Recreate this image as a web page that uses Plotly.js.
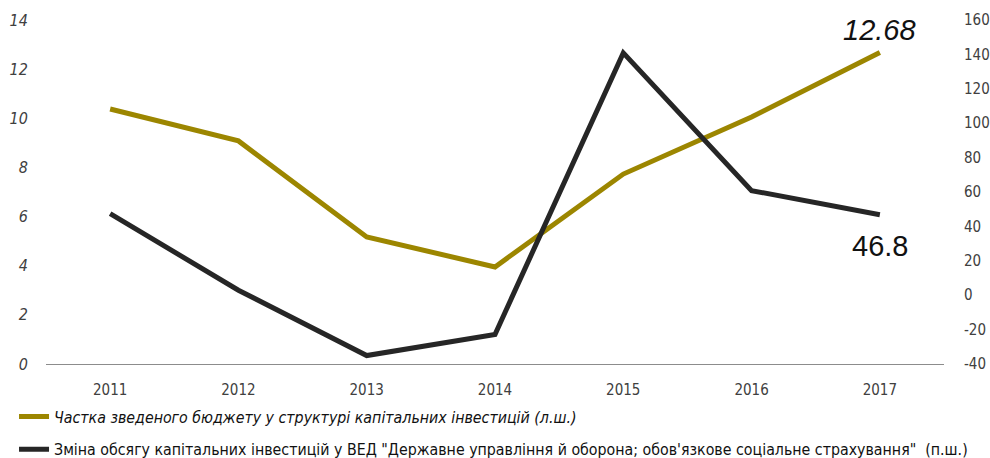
<!DOCTYPE html>
<html>
<head>
<meta charset="utf-8">
<script src="https://cdn.plot.ly/plotly-3.0.1.min.js"></script>
<style>
html,body{margin:0;padding:0;background:#fff}
#chart{width:990px;height:458px}
</style>
</head>
<body>
<div id="chart"></div>
<script>
const years = ['2011','2012','2013','2014','2015','2016','2017'];
const budgetShare = [10.38, 9.08, 5.17, 3.95, 7.73, 10.05, 12.68];
const investChange = [47.4, 2.9, -35.1, -22.8, 140.9, 60.8, 46.8];
const leftTicks = [0, 2, 4, 6, 8, 10, 12, 14];
const rightTicks = [-40, -20, 0, 20, 40, 60, 80, 100, 120, 140, 160];
const nameBudget = '<i>Частка зведеного бюджету у структурі капітальних інвестицій (л.ш.)</i>';
const nameInvest = 'Зміна обсягу капітальних інвестицій у ВЕД "Державне управління й оборона; обов\'язкове соціальне страхування"  (п.ш.)';

const FONT = '"DejaVu Sans Condensed", "DejaVu Sans", sans-serif';
const AFONT = '"Liberation Sans", Arial, sans-serif';
const GOLD = '#9c8600';
const DARK = '#262626';

const traces = [
  {x: years, y: budgetShare, type: 'scatter', mode: 'lines', name: nameBudget,
   line: {color: GOLD, width: 5}, yaxis: 'y', legendgroup: 'a'},
  {x: years, y: investChange, type: 'scatter', mode: 'lines', name: nameInvest,
   line: {color: DARK, width: 5}, yaxis: 'y2', legendgroup: 'b'}
];

const layout = {
  width: 990, height: 458,
  margin: {l: 46, r: 46, t: 20, b: 94},
  paper_bgcolor: '#fff', plot_bgcolor: '#fff',
  font: {family: FONT, color: '#333'},
  showlegend: true,
  xaxis: {
    type: 'category', range: [-0.5, 6.5], showgrid: false, zeroline: false,
    showline: true, linecolor: '#8c8c8c', linewidth: 1,
    ticks: 'outside', ticklen: 12, tickcolor: 'rgba(0,0,0,0)',
    tickfont: {family: FONT, size: 15, color: '#404040'}
  },
  yaxis: {
    range: [0, 14], tickmode: 'array', tickvals: leftTicks, showgrid: false, zeroline: false, showline: false,
    ticks: 'outside', ticklen: 14, tickcolor: 'rgba(0,0,0,0)',
    tickfont: {family: FONT, size: 16, color: '#404040', style: 'italic'}
  },
  yaxis2: {
    range: [-40, 160], tickmode: 'array', tickvals: rightTicks, ticktext: rightTicks.map(String),
    overlaying: 'y', side: 'right',
    showgrid: false, zeroline: false, showline: false,
    ticks: 'outside', ticklen: 16, tickcolor: 'rgba(0,0,0,0)',
    tickfont: {family: FONT, size: 15, color: '#404040'}
  },
  legend: {
    orientation: 'v', xref: 'paper', yref: 'container', x: -0.0356, y: 0.127,
    xanchor: 'left', yanchor: 'top', font: {family: FONT, size: 15.8, color: '#111'},
    tracegroupgap: 9, bgcolor: 'rgba(0,0,0,0)'
  },
  annotations: [
    {x: 6, y: budgetShare[6], xref: 'x', yref: 'y', text: '<i>' + budgetShare[6] + '</i>',
     showarrow: false, yanchor: 'bottom', yshift: 4,
     font: {family: AFONT, size: 29, color: '#111'}},
    {x: 6, y: investChange[6], xref: 'x', yref: 'y2', text: String(investChange[6]),
     showarrow: false, yanchor: 'top', yshift: -13,
     font: {family: AFONT, size: 29, color: '#111'}}
  ]
};

Plotly.newPlot('chart', traces, layout, {displayModeBar: false});
</script>
</body>
</html>
